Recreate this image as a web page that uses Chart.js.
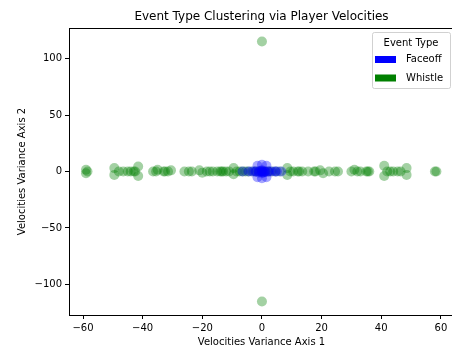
<!DOCTYPE html>
<html>
<head>
<meta charset="utf-8">
<script src="https://cdn.jsdelivr.net/npm/chart.js@4.4.0/dist/chart.umd.min.js"></script>
<style>
  html, body { margin: 0; padding: 0; background: #fff; overflow: hidden; }
  #marco { width: 452px; height: 347px; overflow: hidden; }
</style>
</head>
<body>
<div id="marco"><canvas id="grafico" width="454" height="347"></canvas></div>
<script>
// Datos
const categorias = ['Faceoff', 'Whistle'];
const colores = ['#0000ff', '#008000'];
const coloresPuntos = ['rgba(0, 0, 255, 0.35)', 'rgba(0, 128, 0, 0.36)'];

const faceoffX = [-6.5, -4.5, -3.5, -2.5, -2, -1.5, 0, 1.5, -1.5, 0, 1.5,
    -1, -0.5, 0, 0, 0.5, 1, 1, 2, 2.5, 3.5, 4.5, 5, 6.5, 0.5, -1, 0];
const faceoffY = [0, 0, 0, 0, 0, 5, 6, 5, -5, -6, -5,
    0, 0.5, 0, 1, 0, 0, -0.5, 0, 0, 0, 0, 0, 0, -1, -1, -1];

const whistleX = [-59, -59, -58.5,
    -49.5, -49.5, -48, -46.5, -45, -44, -43, -42.5, -41.5, -41.5,
    -36.5, -35.5, -35, -33, -32.5, -31.5, -30.5,
    -26, -24.5, -23.5,
    -21, -20, -18.5, -17.5, -16.5, -15, -14, -13.5, -13, -12, -11,
    -9.5, -9.5, -8.5, -7.5, -6.5, -5.5, -4.5, -3, -2, -1, 0, 1, 2, 3, 4.5, 6,
    8.5, 8.5, 9.5, 10.5, 12, 12.5, 13.5, 15.5, 17.5, 18, 19.5, 20.5, 22.5, 24.5, 25.5,
    30, 31, 32, 33, 35, 35.5, 36,
    41, 41, 42, 43, 44, 45.5, 46.5, 48.5, 48.5,
    58, 58.5,
    0, 0];
const whistleY = [1.5, -1.5, 0,
    3, -3, 0, 0, 0, 0, 0, 0, 4.5, -4,
    0, 0, 1.5, 0, 0, 0, 1,
    0, 0, 0,
    1, -1, 0, 0, 0, 0, 0, 0, 0, 0, 0,
    3, -2.5, 0, 0, 0, 0, 0, 0, 0, 0, 0, 0, 0, 0, 0, 0,
    3, -3, 0, 0, 0, 0, 0, 0, 0, 0, 1, -1.5, 0, 0, 0,
    0, 1.5, 0, 0, 0, 0, 0,
    5, -4, 0, 0, 0, 0, 0, 3, -3,
    0, 0,
    115, -115];

const ticksX = [-60, -40, -20, 0, 20, 40, 60];
const ticksY = [-100, -50, 0, 50, 100];

const fuente = 'DejaVu Sans';

// Convierte dos arrays en puntos {x, y}
function aPuntos(xs, ys) {
    return xs.map((x, i) => ({ x: x, y: ys[i] }));
}

// Signo menos tipográfico como en matplotlib
function formatear(v) {
    return String(v).replace('-', '\u2212');
}

// Quita el relleno extra que Chart.js reserva para las etiquetas de los extremos
function sinRelleno(s) {
    s.paddingLeft = 0;
    s.paddingRight = 0;
    s.paddingTop = 0;
    s.paddingBottom = 0;
}

// Marco superior/derecho y leyenda dentro del área del gráfico
const marcoYLeyenda = {
    id: 'marcoYLeyenda',
    afterDraw(chart) {
        const ctx = chart.ctx;
        const area = chart.chartArea;
        ctx.save();
        ctx.strokeStyle = '#000';
        ctx.lineWidth = 1;
        ctx.beginPath();
        const yTop = Math.floor(area.top) + 0.5;
        const xRight = Math.floor(area.right) - 0.5;
        ctx.moveTo(area.left, yTop);
        ctx.lineTo(xRight, yTop);
        ctx.lineTo(xRight, area.bottom);
        ctx.stroke();

        const w = 78, h = 56;
        const x0 = Math.floor(area.right) - 4 - w;
        const y0 = Math.floor(area.top) + 4;
        ctx.beginPath();
        ctx.roundRect(x0 + 0.5, y0 + 0.5, w, h, 2);
        ctx.fillStyle = 'rgba(255, 255, 255, 0.8)';
        ctx.fill();
        ctx.strokeStyle = 'rgba(204, 204, 204, 0.9)';
        ctx.stroke();

        ctx.font = '10px "' + fuente + '"';
        ctx.fillStyle = '#000';
        ctx.textBaseline = 'middle';
        ctx.textAlign = 'center';
        ctx.fillText('Event Type', x0 + w / 2, y0 + 11);
        ctx.textAlign = 'left';
        categorias.forEach((nombre, i) => {
            const yc = y0 + 27.5 + i * 18.5;
            ctx.fillStyle = colores[i];
            ctx.fillRect(x0 + 3, yc - 3.5, 21, 7);
            ctx.fillStyle = '#000';
            ctx.fillText(nombre, x0 + 34, yc);
        });
        ctx.restore();
    }
};

const ctx = document.getElementById('grafico').getContext('2d');
new Chart(ctx, {
    type: 'scatter',
    data: {
        datasets: [
            {
                label: categorias[0],
                data: aPuntos(faceoffX, faceoffY),
                backgroundColor: coloresPuntos[0],
                borderWidth: 0,
                pointRadius: 5
            },
            {
                label: categorias[1],
                data: aPuntos(whistleX, whistleY),
                backgroundColor: coloresPuntos[1],
                borderWidth: 0,
                pointRadius: 5
            }
        ]
    },
    options: {
        responsive: false,
        animation: false,
        devicePixelRatio: 1,
        layout: { autoPadding: false, padding: 0 },
        scales: {
            x: {
                type: 'linear',
                min: -64.7,
                max: 64.4,
                afterBuildTicks: (s) => { s.ticks = ticksX.map(v => ({ value: v })); },
                afterFit: (s) => { s.height = 32; sinRelleno(s); },
                ticks: {
                    font: { family: fuente, size: 10 },
                    color: '#000',
                    padding: 3,
                    maxRotation: 0,
                    autoSkip: false,
                    callback: (v) => formatear(v)
                },
                grid: { display: true, drawOnChartArea: false, drawTicks: true, tickLength: 4, color: '#000' },
                border: { display: true, color: '#000' },
                title: {
                    display: true,
                    text: 'Velocities Variance Axis 1',
                    font: { family: fuente, size: 10, lineHeight: 1 },
                    color: '#000',
                    padding: { top: 0, bottom: 0 }
                }
            },
            y: {
                type: 'linear',
                min: -127,
                max: 127,
                afterBuildTicks: (s) => { s.ticks = ticksY.map(v => ({ value: v })); },
                afterFit: (s) => { s.width = 69; sinRelleno(s); },
                ticks: {
                    font: { family: fuente, size: 10 },
                    color: '#000',
                    padding: 3,
                    autoSkip: false,
                    callback: (v) => formatear(v)
                },
                grid: { display: true, drawOnChartArea: false, drawTicks: true, tickLength: 4, color: '#000' },
                border: { display: true, color: '#000' },
                title: {
                    display: true,
                    text: 'Velocities Variance Axis 2',
                    font: { family: fuente, size: 10, lineHeight: 1 },
                    color: '#000',
                    padding: { top: 17, bottom: 0 }
                }
            }
        },
        plugins: {
            legend: { display: false },
            tooltip: { enabled: false },
            title: {
                display: true,
                text: 'Event Type Clustering via Player Velocities',
                font: { family: fuente, size: 12, weight: 'normal' },
                color: '#000',
                fullSize: false,
                padding: { top: 10, bottom: 3.6 }
            }
        }
    },
    plugins: [marcoYLeyenda]
});
</script>
</body>
</html>
